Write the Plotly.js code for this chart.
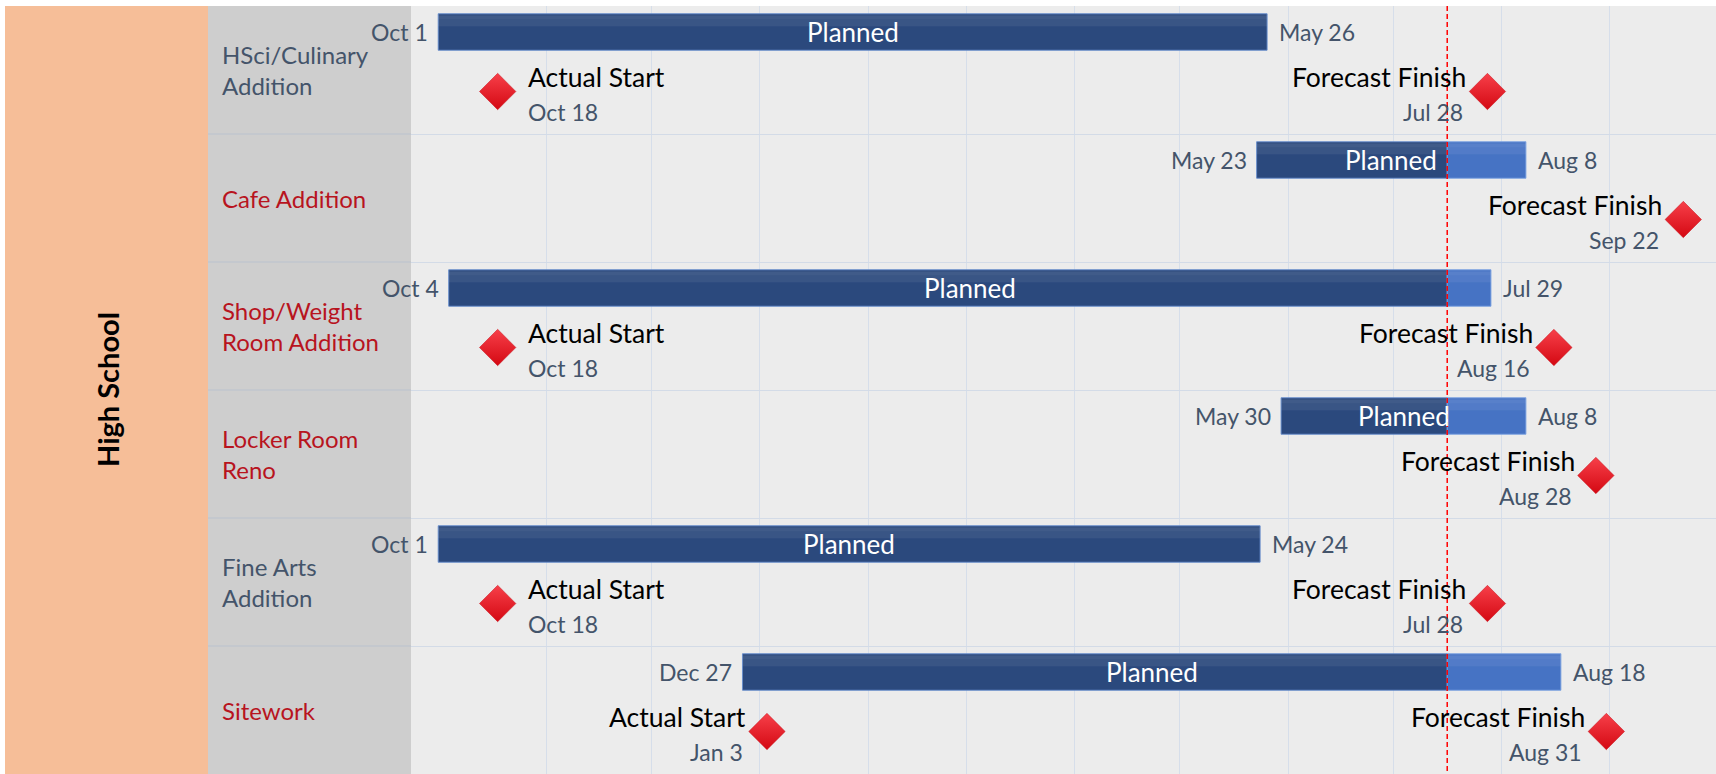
<!DOCTYPE html>
<html>
<head>
<meta charset="utf-8">
<script src="https://cdn.plot.ly/plotly-3.0.1.min.js"></script>
<style>
  html, body { margin: 0; padding: 0; background: #ffffff; }
  #chart { width: 1716px; height: 774px; }
</style>
</head>
<body>
<div id="chart"></div>
<script>
// ---------------- data ----------------
const groupLabel = 'High School';
const categories = ['HSci/Culinary<br>Addition', 'Cafe Addition', 'Shop/Weight<br>Room Addition', 'Locker Room<br>Reno', 'Fine Arts<br>Addition', 'Sitework'];
const flagged = [false, true, true, true, false, true];
const plannedStart = ['2022-10-01', '2023-05-23', '2022-10-04', '2023-05-30', '2022-10-01', '2022-12-27'];
const plannedEnd = ['2023-05-26', '2023-08-08', '2023-07-29', '2023-08-08', '2023-05-24', '2023-08-18'];
const actualStart = ['2022-10-18', null, '2022-10-18', null, '2022-10-18', '2023-01-03'];
const forecastFinish = ['2023-07-28', '2023-09-22', '2023-08-16', '2023-08-28', '2023-07-28', '2023-08-31'];
const statusDate = '2023-07-16 12:00';
const gridMonths = ['2022-11-01', '2022-12-01', '2023-01-01', '2023-02-01', '2023-03-01', '2023-04-01',
                    '2023-05-01', '2023-06-01', '2023-07-01', '2023-08-01', '2023-09-01'];
const barText = 'Planned';
const actualText = 'Actual Start';
const forecastText = 'Forecast Finish';

// ---------------- helpers ----------------
const MONTHS = ['Jan', 'Feb', 'Mar', 'Apr', 'May', 'Jun', 'Jul', 'Aug', 'Sep', 'Oct', 'Nov', 'Dec'];
function toMs(s) {
  const m = s.match(/(\d+)-(\d+)-(\d+)(?:[ T](\d+):(\d+))?/);
  return Date.UTC(+m[1], +m[2] - 1, +m[3], m[4] ? +m[4] : 0, m[5] ? +m[5] : 0);
}
function toStr(ms) { return new Date(ms).toISOString().slice(0, 19).replace('T', ' '); }
function fmt(s) { const d = new Date(toMs(s)); return MONTHS[d.getUTCMonth()] + ' ' + d.getUTCDate(); }

const FONT = 'Lato, "Open Sans", sans-serif';
const SLATE = '#44546A';
const RED_TXT = '#B8141E';
const DARK = '#2B497D';
const LIGHT = '#4673C4';
const BAR_OFF = 0.203, BAR_H = 0.285, DIA_OFF = 0.668;
const X0 = '2022-09-23 05:20', X1 = '2023-10-01 08:24';
const PLOT_L = 411, PLOT_W = 1716 - 411;
const px2paper = p => (p - PLOT_L) / PLOT_W;
const pxPerDay = PLOT_W / ((toMs(X1) - toMs(X0)) / 86400000);

const todayMs = toMs(statusDate);
const n = categories.length;
const rowY = categories.map((c, i) => i);

// ---------------- traces ----------------
const darkY = [], darkBase = [], darkX = [];
const lightY = [], lightBase = [], lightX = [];
rowY.forEach(i => {
  const s = toMs(plannedStart[i]), e = toMs(plannedEnd[i]);
  const split = Math.min(e, Math.max(s, todayMs));
  if (split > s) { darkY.push(i + BAR_OFF); darkBase.push(toStr(s)); darkX.push(split - s); }
  if (e > split) { lightY.push(i + BAR_OFF); lightBase.push(toStr(split)); lightX.push(e - split); }
});

const barCommon = { type: 'bar', orientation: 'h', width: BAR_H, hoverinfo: 'skip', showlegend: false };
const traces = [
  Object.assign({}, barCommon, { y: darkY, x: darkX, base: darkBase,
    marker: { color: DARK, line: { color: 'rgba(100,140,205,0.9)', width: 1 } } }),
  Object.assign({}, barCommon, { y: lightY, x: lightX, base: lightBase,
    marker: { color: LIGHT, line: { color: 'rgba(120,160,225,0.9)', width: 1 } } })
];
// soft top gradient (bevel look): a few stacked translucent strips
[[0.42, 0.55, 0.035], [0.30, 0.30, 0.035], [0.40, 0.12, 0.04]].forEach(([off, w, a]) => {
  traces.push(Object.assign({}, barCommon, { y: darkY.map(v => v - BAR_H * off), x: darkX, base: darkBase,
    width: BAR_H * w - 0.004, marker: { color: 'rgba(255,255,255,' + a + ')', line: { width: 0 } } }));
  traces.push(Object.assign({}, barCommon, { y: lightY.map(v => v - BAR_H * off), x: lightX, base: lightBase,
    width: BAR_H * w - 0.004, marker: { color: 'rgba(255,255,255,' + a + ')', line: { width: 0 } } }));
});
traces.push({ type: 'scatter', mode: 'lines', x: [statusDate, statusDate], y: [0, n], hoverinfo: 'skip', showlegend: false,
  line: { color: '#FF0000', width: 1.5, dash: '5px,3px' } });

const dX = [], dY = [];
rowY.forEach(i => {
  if (actualStart[i]) { dX.push(actualStart[i]); dY.push(i + DIA_OFF); }
  dX.push(forecastFinish[i]); dY.push(i + DIA_OFF);
});
traces.push({ type: 'scatter', mode: 'markers', x: dX, y: dY, hoverinfo: 'skip', showlegend: false,
  marker: { symbol: 'diamond', size: 28, color: '#F7404A', gradient: { type: 'vertical', color: '#D40812' },
            line: { color: '#C8101A', width: 0.5 } } });

// ---------------- annotations ----------------
const ann = [];
const dateFont = { family: FONT, size: 23, color: SLATE };
rowY.forEach(i => {
  const s = toMs(plannedStart[i]), e = toMs(plannedEnd[i]);
  const yb = i + BAR_OFF;
  ann.push({ x: plannedStart[i], y: yb, xref: 'x', yref: 'y', text: fmt(plannedStart[i]), showarrow: false,
    xanchor: 'right', yanchor: 'middle', xshift: -9, borderpad: 0, font: dateFont });
  ann.push({ x: plannedEnd[i], y: yb, xref: 'x', yref: 'y', text: fmt(plannedEnd[i]), showarrow: false,
    xanchor: 'left', yanchor: 'middle', xshift: 11, borderpad: 0, font: dateFont });
  ann.push({ x: toStr((s + e) / 2), y: yb, xref: 'x', yref: 'y', text: barText, showarrow: false,
    xanchor: 'center', yanchor: 'middle', borderpad: 0, font: { family: FONT, size: 26, color: '#FFFFFF' } });
  // category label
  ann.push({ x: px2paper(221), y: i + 0.5, xref: 'paper', yref: 'y', text: categories[i], showarrow: false,
    xanchor: 'left', yanchor: 'middle', align: 'left', borderpad: 0,
    font: { family: FONT, size: 24, color: flagged[i] ? RED_TXT : SLATE } });
  // milestone labels
  const milestones = [];
  if (actualStart[i]) milestones.push([actualStart[i], actualText]);
  milestones.push([forecastFinish[i], forecastText]);
  milestones.forEach(([d, label]) => {
    const room = (toMs(d) - toMs(X0)) / 86400000 * pxPerDay;
    const left = room > 190;
    const yd = i + DIA_OFF;
    ann.push({ x: d, y: yd, xref: 'x', yref: 'y', text: label, showarrow: false,
      xanchor: left ? 'right' : 'left', yanchor: 'middle', xshift: left ? -20 : 29, yshift: 14.5, borderpad: 0,
      font: { family: FONT, size: 26.5, color: '#000000' } });
    ann.push({ x: d, y: yd, xref: 'x', yref: 'y', text: fmt(d), showarrow: false,
      xanchor: left ? 'right' : 'left', yanchor: 'middle', xshift: left ? -23 : 29, yshift: -20, borderpad: 0,
      font: dateFont });
  });
});
ann.push({ x: px2paper(107), y: 0.5, xref: 'paper', yref: 'paper', text: '<b>' + groupLabel + '</b>', showarrow: false,
  textangle: -90, xanchor: 'center', yanchor: 'middle', font: { family: FONT, size: 29, color: '#000000' } });

// ---------------- shapes (panels) ----------------
const shapes = [
  { type: 'rect', xref: 'paper', yref: 'paper', x0: px2paper(5), x1: px2paper(208), y0: 0, y1: 1,
    fillcolor: '#F6BE98', line: { width: 0 }, layer: 'below' },
  { type: 'rect', xref: 'paper', yref: 'paper', x0: px2paper(208), x1: 0, y0: 0, y1: 1,
    fillcolor: '#CECECE', line: { width: 0 }, layer: 'below' }
];
for (let k = 1; k < n; k++) {
  shapes.push({ type: 'line', xref: 'paper', yref: 'y', x0: px2paper(208), x1: 0, y0: k, y1: k,
    line: { color: '#BAC2CE', width: 1 }, layer: 'below' });
}

const layout = {
  width: 1716, height: 774,
  margin: { l: PLOT_L, r: 0, t: 6, b: 0, pad: 0 },
  paper_bgcolor: '#FFFFFF', plot_bgcolor: '#ECECEC',
  barmode: 'overlay', showlegend: false,
  xaxis: { type: 'date', range: [X0, X1], tickmode: 'array', tickvals: gridMonths, showticklabels: false,
           ticks: '', showgrid: true, gridcolor: '#D6DEEA', gridwidth: 1, zeroline: false, showline: false, fixedrange: true },
  yaxis: { range: [n, 0], tickmode: 'array', tickvals: rowY.concat([n]), showticklabels: false, ticks: '',
           showgrid: true, gridcolor: '#D3DBE7', gridwidth: 1, zeroline: false, showline: false, fixedrange: true },
  shapes: shapes,
  annotations: ann
};

Plotly.newPlot('chart', traces, layout, { staticPlot: true, displayModeBar: false });
</script>
</body>
</html>
